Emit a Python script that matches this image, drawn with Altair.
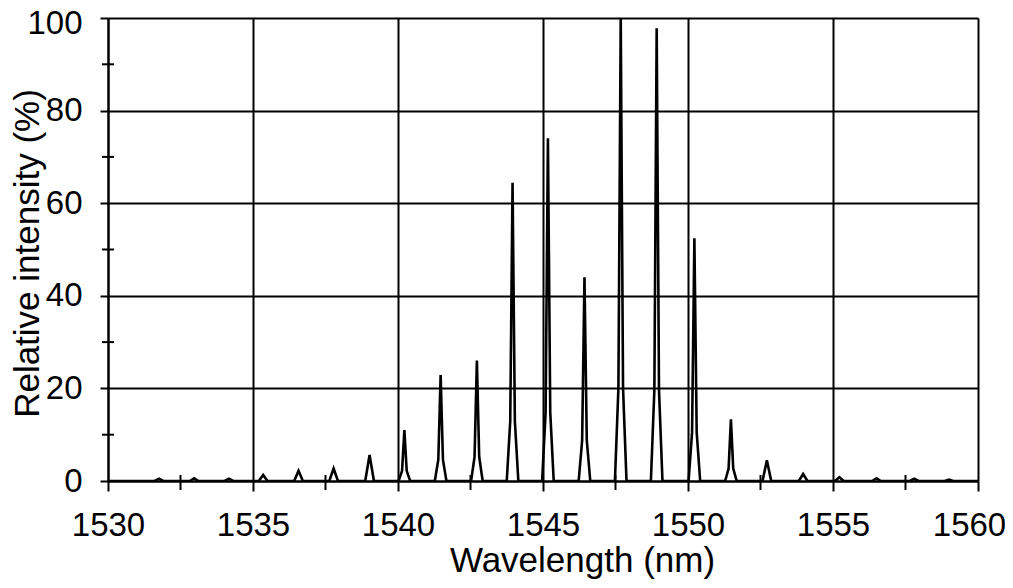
import altair as alt
import pandas as pd

# Trace of the spectrum (wavelength in nm, relative intensity in %)
wavelength = [
    1530.00,
    1531.61, 1531.76, 1531.91,
    1532.82, 1532.97, 1533.12,
    1534.02, 1534.17, 1534.32,
    1535.20, 1535.35, 1535.50,
    1536.42, 1536.57, 1536.72,
    1537.63, 1537.78, 1537.93,
    1538.87, 1539.02, 1539.17,
    1540.02, 1540.14, 1540.22, 1540.30, 1540.42,
    1541.27, 1541.39, 1541.47, 1541.55, 1541.67,
    1542.52, 1542.64, 1542.72, 1542.80, 1542.92,
    1543.75, 1543.87, 1543.95, 1544.03, 1544.15,
    1544.97, 1545.09, 1545.17, 1545.25, 1545.37,
    1546.23, 1546.35, 1546.43, 1546.51, 1546.63,
    1547.48, 1547.60, 1547.68, 1547.76, 1547.88,
    1548.72, 1548.84, 1548.92, 1549.00, 1549.12,
    1550.02, 1550.14, 1550.22, 1550.30, 1550.42,
    1551.28, 1551.40, 1551.48, 1551.56, 1551.68,
    1552.57, 1552.72, 1552.87,
    1553.82, 1553.97, 1554.12,
    1555.07, 1555.22, 1555.37,
    1556.35, 1556.50, 1556.65,
    1557.65, 1557.80, 1557.95,
    1558.85, 1559.00, 1559.15,
    1560.00,
]
intensity = [
    0.0,
    0.0, 0.5, 0.0,
    0.0, 0.6, 0.0,
    0.0, 0.5, 0.0,
    0.0, 1.3, 0.0,
    0.0, 2.2, 0.0,
    0.0, 2.7, 0.0,
    0.0, 5.6, 0.0,
    0.0, 2.2, 11.0, 2.2, 0.0,
    0.0, 4.6, 22.9, 4.6, 0.0,
    0.0, 5.2, 26.0, 5.2, 0.0,
    0.0, 12.9, 64.4, 12.9, 0.0,
    0.0, 14.8, 74.0, 14.8, 0.0,
    0.0, 8.8, 44.0, 8.8, 0.0,
    0.0, 20.0, 100.0, 20.0, 0.0,
    0.0, 19.6, 97.8, 19.6, 0.0,
    0.0, 10.5, 52.4, 10.5, 0.0,
    0.0, 2.7, 13.3, 2.7, 0.0,
    0.0, 4.5, 0.0,
    0.0, 1.5, 0.0,
    0.0, 0.8, 0.0,
    0.0, 0.6, 0.0,
    0.0, 0.5, 0.0,
    0.0, 0.3, 0.0,
    0.0,
]

x_ticks = [1530, 1535, 1540, 1545, 1550, 1555, 1560]
y_ticks = [0, 20, 40, 60, 80, 100]
x_minor = [1532.5, 1537.5, 1542.5, 1547.5, 1552.5, 1557.5]
y_minor = [10, 30, 50, 70, 90]

W, H = 870, 463
FONT = "Liberation Sans"

df = pd.DataFrame({"wl": wavelength, "I": intensity, "idx": list(range(len(wavelength)))})
dfx = pd.DataFrame({"wl": x_minor})
dfy = pd.DataFrame({"I": y_minor})

xscale = alt.Scale(domain=[1530, 1560], nice=False, zero=False)
yscale = alt.Scale(domain=[0, 100], nice=False)

common_axis = dict(
    labelFont=FONT, titleFont=FONT, labelColor="black", titleColor="black",
    labelFontSize=33, titleFontSize=35, titleFontWeight="normal",
    domainColor="black", domainWidth=2, tickColor="black", tickWidth=2,
    grid=True, gridColor="black", gridWidth=2, gridOpacity=1,
    format="d", labelOverlap=False, labelFlush=False,
)

x_axis = alt.Axis(values=x_ticks, title="Wavelength (nm)", tickSize=10,
                  labelPadding=18, titleX=474, titleY=90,
                  labelOffset={"condition": {"test": "datum.value == 1560", "value": -9}, "value": 0},
                  titleBaseline="alphabetic", **common_axis)
y_axis = alt.Axis(values=y_ticks, title="Relative intensity (%)", tickSize=8,
                  labelPadding=18, titleX=-70, titleY=235, titleAngle=-90,
                  labelOffset={"condition": {"test": "datum.value == 100", "value": 5}, "value": 0},
                  titleBaseline="alphabetic", **common_axis)

line = alt.Chart(df).mark_line(color="black", strokeWidth=2.6, clip=True).encode(
    x=alt.X("wl:Q", scale=xscale, axis=x_axis),
    y=alt.Y("I:Q", scale=yscale, axis=y_axis),
    order="idx:Q",
)

xminor = alt.Chart(dfx).mark_rule(color="black", strokeWidth=2).encode(
    x=alt.X("wl:Q", scale=xscale, axis=x_axis),
    y=alt.value(H - 6), y2=alt.value(H + 9),
)
yminor = alt.Chart(dfy).mark_rule(color="black", strokeWidth=2).encode(
    y=alt.Y("I:Q", scale=yscale, axis=y_axis),
    x=alt.value(-6), x2=alt.value(6),
)

chart = alt.layer(line, xminor, yminor).properties(
    width=W, height=H,
    autosize=alt.AutoSizeParams(type="none"),
    padding={"left": 100, "top": 10, "right": 27, "bottom": 98},
).configure_view(strokeWidth=0).configure(background="white")

chart.save("out.html", embed_options={"renderer": "svg", "actions": False})
